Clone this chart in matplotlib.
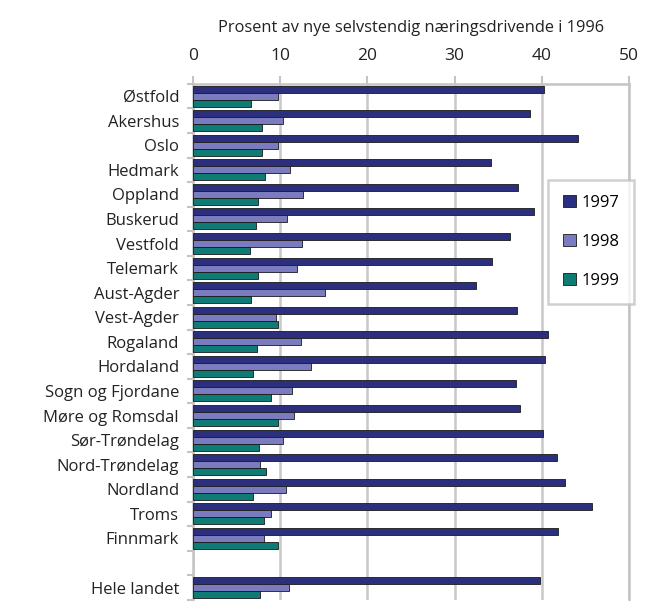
import matplotlib
matplotlib.use("Agg")
import matplotlib.pyplot as plt
import numpy as np
from matplotlib.patches import Patch

plt.rcParams['font.family'] = ['Open Sans', 'DejaVu Sans']

categories = ["Østfold", "Akershus", "Oslo", "Hedmark", "Oppland", "Buskerud",
              "Vestfold", "Telemark", "Aust-Agder", "Vest-Agder", "Rogaland",
              "Hordaland", "Sogn og Fjordane", "Møre og Romsdal", "Sør-Trøndelag",
              "Nord-Trøndelag", "Nordland", "Troms", "Finnmark", "", "Hele landet"]

v1997 = [40.2, 38.7, 44.1, 34.2, 37.3, 39.1, 36.4, 34.3, 32.5, 37.2, 40.7,
         40.4, 37.0, 37.5, 40.1, 41.8, 42.7, 45.7, 41.9, None, 39.8]
v1998 = [9.8, 10.3, 9.7, 11.1, 12.6, 10.8, 12.5, 11.9, 15.1, 9.5, 12.4,
         13.5, 11.3, 11.6, 10.3, 7.7, 10.7, 9.0, 8.1, None, 11.0]
v1999 = [6.6, 7.9, 7.9, 8.3, 7.5, 7.2, 6.5, 7.5, 6.7, 9.7, 7.3,
         6.9, 9.0, 9.8, 7.6, 8.4, 6.9, 8.1, 9.7, None, 7.7]

series = ["1997", "1998", "1999"]
colors = ["#2B2F7E", "#7B7BBF", "#0E7B74"]
xticks = [0, 10, 20, 30, 40, 50]
xlabel = "Prosent av nye selvstendig næringsdrivende i 1996"

fig = plt.figure(figsize=(6.45, 6.01), dpi=100)
ax = fig.add_axes([193/645, 0.002, (629-193)/645, (599-83)/601])

n = len(categories)
y = np.arange(n)
h = 0.285
for k, (vals, col) in enumerate(zip([v1997, v1998, v1999], colors)):
    yy = [yi + (k - 1) * h for yi, v in zip(y, vals) if v is not None]
    vv = [v for v in vals if v is not None]
    ax.barh(yy, vv, height=h, color=col, edgecolor="#1a1a1a", linewidth=0.6, zorder=3)

ax.set_xlim(0, 50)
ax.set_ylim(n - 0.5, -0.5)
ax.xaxis.tick_top()
ax.xaxis.set_label_position("top")
ax.set_xticks(xticks)
ax.set_xticklabels([str(t) for t in xticks], fontsize=12.5, color="#222222")
ax.set_xlabel(xlabel, fontsize=11.8, color="#222222", labelpad=12)
ax.tick_params(axis="x", length=6, width=1.5, color="#c4c4c4", pad=8)

ax.set_yticks(y)
ax.set_yticklabels(categories, fontsize=12, color="#222222")
ax.tick_params(axis="y", which="major", length=0, pad=10)
ax.set_yticks(np.arange(-0.5, n, 1.0), minor=True)
ax.tick_params(axis="y", which="minor", length=4, width=1.5, color="#c4c4c4")

ax.grid(axis="x", color="#c8c8c8", linewidth=1.8, zorder=0)
for s in ["top", "left", "right"]:
    ax.spines[s].set_color("#c4c4c4")
    ax.spines[s].set_linewidth(1.8)
ax.spines["bottom"].set_visible(False)

handles = [Patch(facecolor=c, edgecolor="#1a1a1a", linewidth=0.6, label=s)
           for s, c in zip(series, colors)]
leg = fig.legend(handles=handles, loc="upper left",
                 bbox_to_anchor=(548/645, 1 - 180/601),
                 fontsize=12, frameon=True, fancybox=False, borderpad=0.9,
                 borderaxespad=0, labelspacing=1.37, handlelength=0.75,
                 handleheight=0.75, handletextpad=0.35)
leg.get_frame().set_edgecolor("#c4c4c4")
leg.get_frame().set_linewidth(1.8)
leg.set_zorder(5)

fig.savefig("out.png", dpi=100)
